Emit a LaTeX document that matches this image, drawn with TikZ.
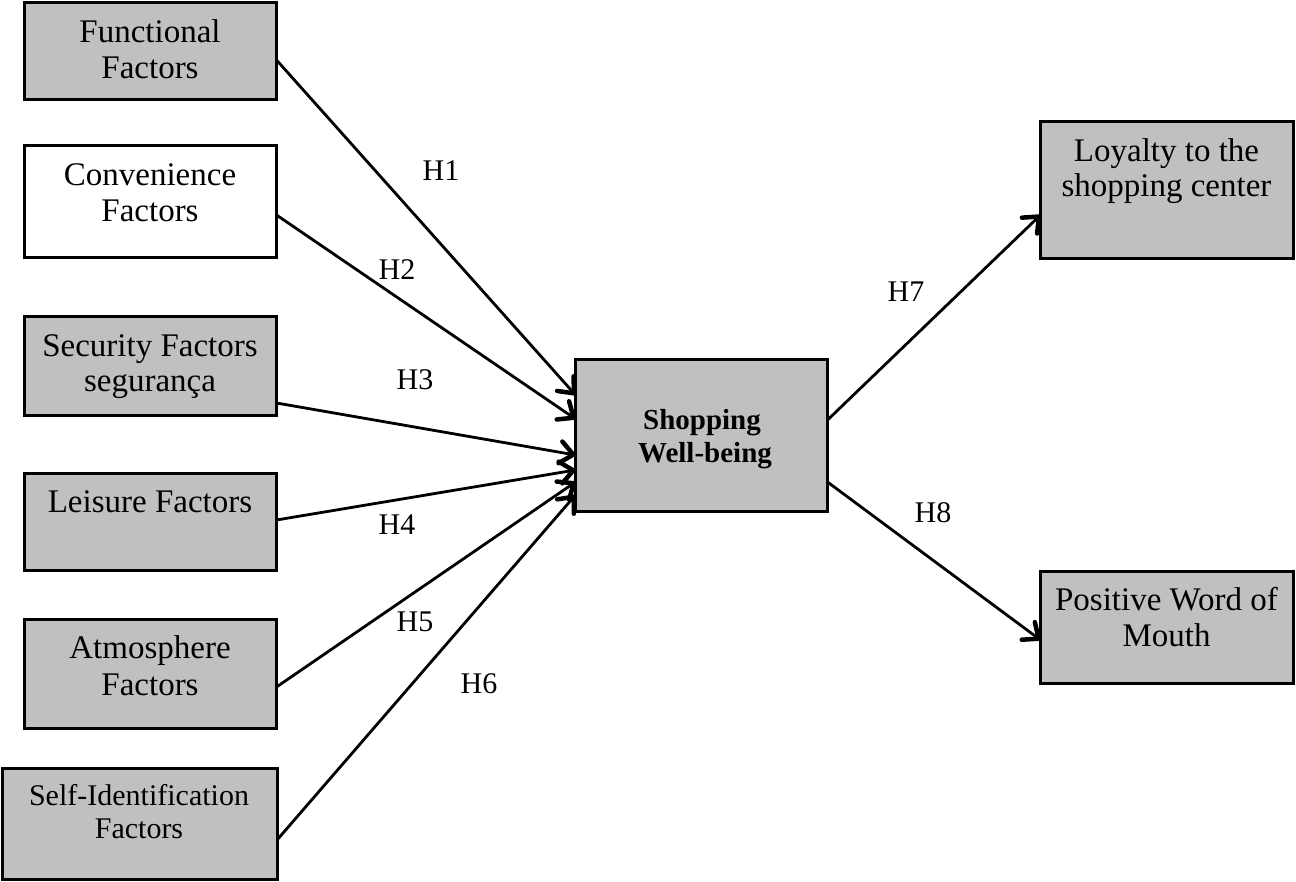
\documentclass[tikz,border=0pt]{standalone}
\usepackage{fontspec}
\setmainfont{Liberation Serif}
\usetikzlibrary{arrows.meta}
\definecolor{boxgray}{RGB}{192,192,192}
\begin{document}
\begin{tikzpicture}[x=1pt,y=-1pt,
  box/.style={draw=black, line width=3pt, inner sep=0pt, outer sep=0pt, fill=boxgray},
  wbox/.style={box, fill=white},
  txt/.style={inner sep=0pt, anchor=base, font=\fontsize{33}{36}\selectfont},
  stxt/.style={txt, font=\fontsize{30}{32}\selectfont},
  btxt/.style={txt, font=\fontsize{29}{33}\selectfont\bfseries},
  hlab/.style={inner sep=0pt, anchor=base, font=\fontsize{30}{34}\selectfont},
  link/.style={line width=2.8pt, -{Straight Barb[length=13pt,width=22pt,line width=4.5pt,round]}}
]
\useasboundingbox (0,0) rectangle (1296,882);
% boxes
\node[box,  minimum width=252pt, minimum height=97pt]  (fun) at (150.5,51) {};
\node[wbox, minimum width=252pt, minimum height=112pt] (con) at (150.5,201.5) {};
\node[box,  minimum width=252pt, minimum height=99pt]  (sec) at (150.5,366) {};
\node[box,  minimum width=252pt, minimum height=97pt]  (lei) at (150.5,522) {};
\node[box,  minimum width=252pt, minimum height=109pt] (atm) at (150.5,674) {};
\node[box,  minimum width=275pt, minimum height=111pt] (sel) at (139.5,824) {};
\node[box,  minimum width=252pt, minimum height=152pt] (swb) at (701.5,435.5) {};
\node[box,  minimum width=253pt, minimum height=137pt] (loy) at (1167,190) {};
\node[box,  minimum width=253pt, minimum height=112pt] (pwm) at (1167,627.5) {};
% texts
\node[txt] (funA) at (150,43) {Functional};
\node[txt] (funB) at (150,79) {Factors};
\node[txt] (conA) at (150,186) {Convenience};
\node[txt] (conB) at (150,222) {Factors};
\node[txt] (secA) at (150,357) {Security Factors};
\node[txt] (secB) at (150,392) {segurança};
\node[txt] (leiA) at (150,512) {Leisure Factors};
\node[txt] (atmA) at (150,658) {Atmosphere};
\node[txt] (atmB) at (150,695) {Factors};
\node[stxt] (selA) at (139,805) {Self-Identification};
\node[stxt] (selB) at (139,838) {Factors};
\node[btxt] (swbA) at (702,430) {Shopping};
\node[btxt] (swbB) at (705,462) {Well-being};
\node[txt] (loyA) at (1166.5,162) {Loyalty to the};
\node[txt] (loyB) at (1166.5,197) {shopping center};
\node[txt] (pwmA) at (1166.5,610) {Positive Word of};
\node[txt] (pwmB) at (1166.5,646) {Mouth};
% connectors
\draw[link] ([yshift=-9pt]fun.east)   -- ([yshift=40.5pt]swb.west);
\draw[link] ([yshift=-13.5pt]con.east) -- ([yshift=16.5pt]swb.west);
\draw[link] ([yshift=-37pt]sec.east)  -- ([yshift=-19.5pt]swb.west);
\draw[link] ([yshift=2pt]lei.east)    -- ([yshift=-34.5pt]swb.west);
\draw[link] ([yshift=-13pt]atm.east)  -- ([yshift=-46.5pt]swb.west);
\draw[link] ([yshift=-16pt]sel.east)  -- ([yshift=-59.5pt]swb.west);
\draw[link] ([yshift=15.5pt]swb.east) -- ([yshift=-25pt]loy.west);
\draw[link] ([yshift=-46.5pt]swb.east) -- ([yshift=-12.5pt]pwm.west);
% labels
\node[hlab] (h1) at (441,181) {H1};
\node[hlab] (h2) at (397,280) {H2};
\node[hlab] (h3) at (415,390) {H3};
\node[hlab] (h4) at (397,534) {H4};
\node[hlab] (h5) at (415,631) {H5};
\node[hlab] (h6) at (479,693) {H6};
\node[hlab] (h7) at (906,302) {H7};
\node[hlab] (h8) at (933,522) {H8};
\end{tikzpicture}
\end{document}
